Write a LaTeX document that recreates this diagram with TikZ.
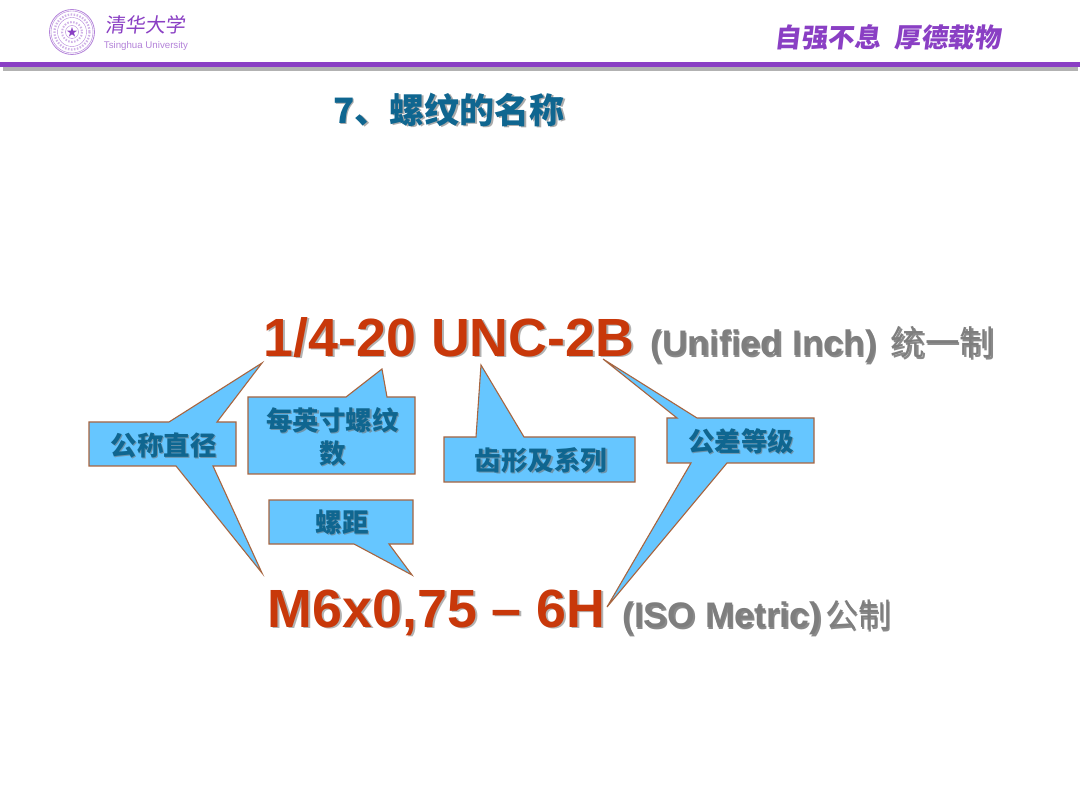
\documentclass[tikz,border=0pt]{standalone}
\usepackage{fontspec}
\setmainfont{Liberation Sans}
\newfontfamily\cjk{Noto Sans CJK SC}
\definecolor{tpurple}{HTML}{8A3FC4}
\definecolor{calloutfill}{HTML}{66C6FF}
\definecolor{calloutedge}{HTML}{A8653F}
\definecolor{capblue}{HTML}{0F6690}
\definecolor{bigred}{HTML}{C8380A}
\definecolor{midgrey}{HTML}{7E7E7E}
\tikzset{
  callout/.style={fill=calloutfill,draw=calloutedge,line width=1.1pt,line join=miter},
  lbl/.style={inner sep=0pt,font=\cjk\bfseries\fontsize{26.5}{33}\selectfont,text=capblue,align=center},
  ring/.style={draw=tpurple!65,line width=.7pt},
}
\newcommand{\shadowed}[4]{% name, position, style, text
  \node[#3,text=black!55,opacity=.6] at ([shift={(1.4pt,-1.4pt)}]#2) {#4};
  \node[#3] (#1) at (#2) {#4};
}
\begin{document}
\begin{tikzpicture}[x=1pt,y=-1pt]
\useasboundingbox (0,0) rectangle (1080,810);
\fill[white] (0,0) rectangle (1080,810);
% header rule
\fill[black!30] (3,67) rectangle (1078,71);
\fill[tpurple] (0,62) rectangle (1080,67);
% seal
\coordinate (seal) at (72,32);
\draw[ring,line width=.8pt] (seal) circle (22.5);
\draw[ring,line width=.4pt] (seal) circle (21);
\draw[ring,line width=.4pt] (seal) circle (14.5);
\draw[ring,line width=2.2pt,dash pattern=on 1.5pt off 1.5pt,draw=tpurple!40] (seal) circle (17.5);
\draw[ring,line width=2pt,dash pattern=on 1.5pt off 1.5pt,draw=tpurple!40] (seal) circle (10);
\draw[ring,line width=.4pt] (seal) circle (6.5);
\node[inner sep=0pt,text=tpurple,font=\cjk\fontsize{11}{11}\selectfont] at (seal) {★};
\node[inner sep=0pt,text=tpurple,font=\cjk\fontsize{20}{20}\selectfont,xslant=.12] (tsinghua) at (146,25) {清华大学};
\node[inner sep=0pt,text=tpurple!65,font=\fontsize{9.7}{11}\selectfont] (tsinghuaen) at (146,45.5) {Tsinghua University};
\node[inner sep=0pt,text=tpurple,font=\cjk\bfseries\fontsize{26.5}{26}\selectfont,xslant=.12] (motto) at (889,37) {自强不息\hspace{14pt}厚德载物};
% title
\shadowed{title}{449,110}{lbl,font=\cjk\bfseries\fontsize{35}{38}\selectfont}{7、螺纹的名称}
% callouts
\path[callout] (89,422) -- (169,422) -- (262,363) -- (217,422) -- (236,422) -- (236,466) -- (213,466) -- (262,573) -- (176,466) -- (89,466) -- cycle;
\path[callout] (248,397) -- (346,397) -- (382,369) -- (387,397) -- (415,397) -- (415,474) -- (248,474) -- cycle;
\path[callout] (269,500) -- (413,500) -- (413,544) -- (389,544) -- (412,575) -- (354,544) -- (269,544) -- cycle;
\path[callout] (444,437) -- (476,437) -- (481,365) -- (524,437) -- (635,437) -- (635,482) -- (444,482) -- cycle;
\path[callout] (667,418) -- (677,418) -- (603,359) -- (697,418) -- (814,418) -- (814,463) -- (727,463) -- (607,607) -- (691,463) -- (667,463) -- cycle;
% callout labels
\shadowed{nominal}{163.5,445}{lbl}{公称直径}
\shadowed{tpi}{332.5,436.5}{lbl}{每英寸螺纹\\数}
\shadowed{pitch}{342,522}{lbl}{螺距}
\shadowed{series}{541,460.5}{lbl}{齿形及系列}
\shadowed{tol}{741,441}{lbl}{公差等级}
% big designations
\tikzset{
  big/.style={inner sep=0pt,anchor=base west,font=\bfseries\fontsize{53.8}{54}\selectfont,text=bigred},
  bigsh/.style={big,text=black!50,opacity=.6},
  small/.style={inner sep=0pt,anchor=base west,font=\bfseries\fontsize{35.5}{35}\selectfont,text=midgrey},
  smallsh/.style={small,text=black!65,opacity=.7},
}
\node[bigsh] at (265.5,358) {1/4-20 UNC-2B};
\node[big] (uncode) at (263.5,356.5) {1/4-20 UNC-2B};
\node[smallsh] at (651.5,357.5) {(Unified Inch) \hspace{4pt}{\cjk\mdseries\fontsize{34.5}{35}\selectfont 统一制}};
\node[small] (unified) at (650,356) {(Unified Inch) \hspace{4pt}{\cjk\mdseries\fontsize{34.5}{35}\selectfont 统一制}};
\node[bigsh] at (269.5,628.5) {M6x0,75 -- 6H};
\node[big] (mcode) at (267.5,627) {M6x0,75 -- 6H};
\node[smallsh] at (623.5,629) {(ISO Metric)\hspace{4pt}{\cjk\mdseries\fontsize{33}{35}\selectfont 公制}};
\node[small] (iso) at (622,627.5) {(ISO Metric)\hspace{4pt}{\cjk\mdseries\fontsize{33}{35}\selectfont 公制}};
\end{tikzpicture}
\end{document}
